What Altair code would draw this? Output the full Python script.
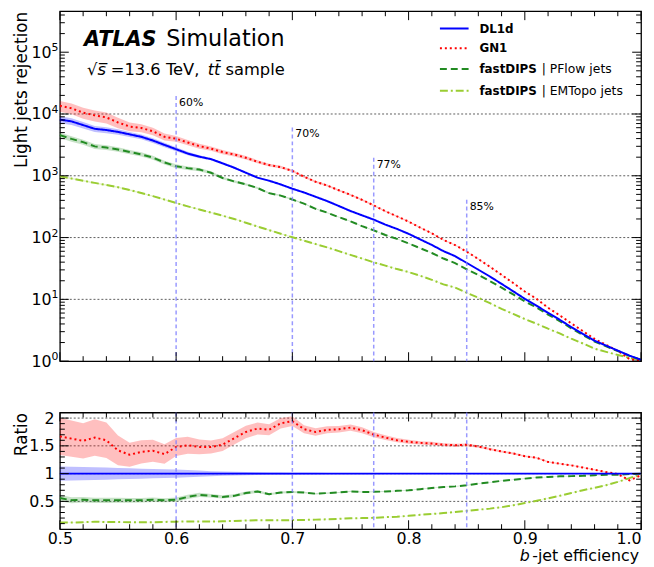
import altair as alt
import pandas as pd

FONT = "DejaVu Sans"
W, H1, H2 = 588, 354, 118

# ---------------- data ----------------
eff = [round(0.50 + 0.01 * i, 2) for i in range(51)]

dl1d = [8130, 7590, 6610, 5750, 5500, 5130, 4680, 4270, 3720, 3160,
        2690, 2290, 2040, 1860, 1590, 1350, 1120, 933, 832, 724,
        617, 537, 457, 389, 324, 269, 229, 195, 162, 138,
        115, 93.3, 75.9, 60.3, 50.1, 38.9, 30.2, 23.4, 17.8, 13.5,
        10.2, 7.94, 6.03, 4.68, 3.55, 2.75, 2.14, 1.78, 1.48, 1.23, 1.05]
gn1 = [13580, 12370, 10510, 9490, 8800, 7280, 6270, 5940, 5250, 4270,
       3980, 3460, 3020, 2750, 2420, 2210, 1960, 1690, 1490, 1380,
       1200, 967, 800, 696, 583, 492, 408, 332, 267, 221,
       181, 145, 117, 91.7, 75.7, 59.1, 45.0, 33.7, 24.9, 18.4,
       13.4, 10.2, 7.30, 5.52, 4.08, 3.05, 2.29, 1.83, 1.47, 1.08, 1.02]
fd_pflow = [4550, 3950, 3500, 2990, 2860, 2670, 2430, 2220, 1970, 1640,
            1430, 1330, 1260, 1120, 922, 810, 728, 634, 524, 478,
            413, 354, 292, 253, 214, 183, 153, 131, 110, 95.2,
            80.5, 67.2, 56.2, 45.8, 38.6, 30.7, 24.8, 19.7, 15.5, 12.0,
            9.28, 7.38, 5.67, 4.45, 3.39, 2.64, 2.08, 1.74, 1.45, 1.22, 1.05]
fd_emtopo = [977, 902, 832, 767, 708, 653, 589, 525, 468, 412,
             363, 320, 285, 254, 226, 200, 174, 151, 132, 115,
             101, 89.1, 78.5, 69.2, 60.3, 52.5, 45.7, 39.8, 35.1, 30.9,
             27.6, 24.1, 20.7, 17.5, 15.5, 12.8, 10.6, 8.66, 7.03, 5.81,
             4.79, 4.05, 3.35, 2.81, 2.31, 1.93, 1.59, 1.41, 1.26, 1.13, 1.04]

# relative statistical uncertainty (half width of the bands)
dl1d_unc = [0.13, 0.125, 0.12, 0.115, 0.11, 0.10, 0.095, 0.09, 0.085, 0.08,
            0.075, 0.065, 0.055, 0.045, 0.04, 0.035, 0.03, 0.025, 0.022, 0.02,
            0.018, 0.016, 0.014, 0.012, 0.011, 0.01, 0.009, 0.009, 0.008, 0.008,
            0.007, 0.007, 0.006, 0.006, 0.006, 0.005, 0.005, 0.005, 0.005, 0.005,
            0.005, 0.005, 0.005, 0.005, 0.005, 0.005, 0.005, 0.005, 0.005, 0.005, 0.005]
gn1_unc = [0.20, 0.20, 0.20, 0.20, 0.20, 0.19, 0.16, 0.15, 0.14, 0.13,
           0.11, 0.10, 0.09, 0.08, 0.075, 0.07, 0.065, 0.06, 0.055, 0.05,
           0.045, 0.04, 0.038, 0.035, 0.033, 0.03, 0.03, 0.028, 0.026, 0.024,
           0.022, 0.02, 0.02, 0.018, 0.017, 0.016, 0.015, 0.014, 0.013, 0.012,
           0.011, 0.01, 0.009, 0.008, 0.008, 0.007, 0.007, 0.006, 0.006, 0.005, 0.005]
pflow_unc = [0.10, 0.10, 0.095, 0.09, 0.09, 0.085, 0.08, 0.08, 0.075, 0.07,
             0.07, 0.065, 0.06, 0.055, 0.05, 0.045, 0.04, 0.035, 0.03, 0.028,
             0.025, 0.022, 0.02, 0.018, 0.016, 0.015, 0.014, 0.013, 0.012, 0.011,
             0.01, 0.009, 0.009, 0.008, 0.008, 0.007, 0.006, 0.006, 0.006, 0.006,
             0.006, 0.005, 0.005, 0.005, 0.005, 0.005, 0.005, 0.005, 0.005, 0.005, 0.005]
emtopo_unc = [0.03, 0.03, 0.03, 0.028, 0.027, 0.026, 0.025, 0.024, 0.023, 0.022,
              0.021, 0.02, 0.02, 0.02, 0.02, 0.02, 0.02, 0.02, 0.02, 0.02,
              0.018, 0.015, 0.015, 0.015, 0.015, 0.015, 0.015, 0.015, 0.015, 0.015,
              0.012, 0.01, 0.01, 0.01, 0.01, 0.01, 0.01, 0.01, 0.01, 0.01,
              0.008, 0.008, 0.008, 0.008, 0.008, 0.008, 0.008, 0.008, 0.008, 0.008, 0.008]

taggers = ["DL1d", "GN1", "fastDIPS_PFlow", "fastDIPS_EMTopo"]
series = [dl1d, gn1, fd_pflow, fd_emtopo]
uncs = [dl1d_unc, gn1_unc, pflow_unc, emtopo_unc]

wp_eff = [0.60, 0.70, 0.77, 0.85]
wp_top = [19500, 6030, 1950, 410]
wp_label = ["60%", "70%", "77%", "85%"]

grid_top = [10, 100, 1000, 10000]
grid_ratio = [0.5, 1, 1.5, 2]
exp_vals = [1, 10, 100, 1000, 10000, 100000]
exp_text = ["0", "1", "2", "3", "4", "5"]
x_major = [0.5, 0.6, 0.7, 0.8, 0.9, 1.0]

# ---------------- styles ----------------
style = {
    "DL1d": dict(color="#0000ff", dash=[1, 0]),
    "GN1": dict(color="#ff0000", dash=[2, 3]),
    "fastDIPS_PFlow": dict(color="#228b22", dash=[7, 4]),
    "fastDIPS_EMTopo": dict(color="#9acd32", dash=[8, 3, 2, 3]),
}

rows = []
for name, vals, unc in zip(taggers, series, uncs):
    for e, v, u, b in zip(eff, vals, unc, dl1d):
        r = v / b
        rows.append(dict(eff=e, tagger=name, rej=v, lo=v * (1 - u), hi=v * (1 + u),
                         ratio=r, rlo=r * (1 - u), rhi=r * (1 + u)))
df = pd.DataFrame(rows)

xs = alt.Scale(domain=[0.5, 1.0], nice=False, zero=False)
ys_top = alt.Scale(type="log", domain=[1, 4.6e5], nice=False)
ys_rat = alt.Scale(domain=[0, 2.1], nice=False, zero=False)

common = dict(ticks=False, tickSize=0, domain=False, grid=False, labelFont=FONT,
              labelFontSize=16, labelColor="black", titleFont=FONT, titleFontSize=17,
              titleFontWeight="normal", titleColor="black")
axis_top_y = alt.Axis(values=exp_vals, labelExpr="'10'", labelPadding=9,
                      title="Light jets rejection", titleAngle=270, titleAlign="right",
                      titleBaseline="alphabetic", titleX=-33.5, titleY=0, **common)
axis_rat_y = alt.Axis(values=grid_ratio, format="~g", labelPadding=6, title="Ratio",
                      titleAngle=270, titleAlign="right", titleBaseline="alphabetic",
                      titleX=-33.5, titleY=0, **common)
axis_rat_x = alt.Axis(values=x_major, format=".1f", labelPadding=2, title=None,
                      labelAlign={"condition": {"test": "datum.value > 0.99", "value": "right"},
                                  "value": "center"}, **common)


def XT(field):
    return alt.X(field, type="quantitative", scale=xs, axis=None)


def YT(field):
    return alt.Y(field, type="quantitative", scale=ys_top, axis=axis_top_y)


def XB(field):
    return alt.X(field, type="quantitative", scale=xs, axis=axis_rat_x)


def YB(field):
    return alt.Y(field, type="quantitative", scale=ys_rat, axis=axis_rat_y)


def sel(name):
    return alt.Chart(df).transform_filter(alt.datum.tagger == name)


def blank():
    return alt.Chart(alt.Data(values=[{}]))


def txt(text, x, y, size, weight="normal", style_="normal", align="left",
        baseline="alphabetic", font=FONT):
    return blank().mark_text(text=text, font=font, fontSize=size, fontWeight=weight,
                             fontStyle=style_, align=align, baseline=baseline,
                             color="black").encode(x=alt.value(x), y=alt.value(y))


def yticks(values, Y, length, side):
    d = pd.DataFrame({"v": values})
    x0, x1 = (0, length) if side == "left" else (W - length, W)
    return alt.Chart(d).mark_rule(color="black", strokeWidth=1).encode(
        y=Y("v"), x=alt.value(x0), x2=alt.value(x1))


def xticks(values, X, length, H, side):
    d = pd.DataFrame({"v": values})
    y0, y1 = (H - length, H) if side == "bottom" else (0, length)
    return alt.Chart(d).mark_rule(color="black", strokeWidth=1).encode(
        x=X("v"), y=alt.value(y0), y2=alt.value(y1))


top_minor = [m * 10 ** k for k in range(6) for m in range(2, 10) if m * 10 ** k < 4.6e5]
x_minor = [round(0.5 + 0.02 * i, 2) for i in range(26) if i % 5 != 0]
r_minor = [round(0.1 * i, 1) for i in range(1, 22) if i % 5 != 0]

# ---------------- top panel ----------------
top_layers = []
top_layers.append(alt.Chart(pd.DataFrame({"v": grid_top})).mark_rule(
    color="black", strokeDash=[2, 2], strokeWidth=0.8, opacity=0.8).encode(y=YT("v")))
for name in taggers:
    s = style[name]
    top_layers.append(sel(name).mark_area(color=s["color"], opacity=0.25).encode(
        x=XT("eff"), y=YT("lo"), y2="hi:Q"))
for name in reversed(taggers):
    s = style[name]
    top_layers.append(sel(name).mark_line(color=s["color"], strokeDash=s["dash"],
                                          strokeWidth=2).encode(x=XT("eff"), y=YT("rej")))
wp_df = pd.DataFrame({"eff": wp_eff, "top": wp_top, "label": wp_label})
top_layers.append(alt.Chart(wp_df).mark_rule(color="#8080ff", strokeDash=[4, 3],
                                             strokeWidth=1.5, opacity=0.8).encode(
    x=XT("eff"), y=YT("top"), y2=alt.value(H1)))
top_layers.append(alt.Chart(wp_df).mark_text(align="left", baseline="top", dx=3, dy=1,
                                             font=FONT, fontSize=11, color="black").encode(
    x=XT("eff"), y=YT("top"), text="label:N"))
top_layers += [yticks(exp_vals, YT, 9, "left"), yticks(top_minor, YT, 5, "left"),
               yticks(exp_vals, YT, 9, "right"), yticks(top_minor, YT, 5, "right"),
               xticks(x_major, XT, 9, H1, "bottom"), xticks(x_minor, XT, 5, H1, "bottom"),
               xticks(x_major, XT, 9, H1, "top"), xticks(x_minor, XT, 5, H1, "top")]
top_layers.append(alt.Chart(pd.DataFrame({"v": exp_vals, "e": exp_text})).mark_text(
    align="left", baseline="alphabetic", dy=-1, font=FONT, fontSize=11, color="black").encode(
    y=YT("v"), x=alt.value(-8.5), text="e:N"))

top_layers += [
    txt("ATLAS", 24.5, 35.5, 21, weight="bold", style_="italic"),
    txt("Simulation", 107.5, 35.5, 22.5),
    txt("\u221a", 27.5, 64.5, 16.5),
    txt("s\u0305", 38, 64.5, 16.5, style_="italic"),
    txt("=13.6 TeV,", 51.5, 64.5, 16.5),
    txt("tt\u0304", 149.5, 64.5, 16.5, style_="italic"),
    txt("sample", 167.5, 64.5, 16.5),
]
# legend
leg_y = [17.5, 37.5, 58.5, 80.5]
leg_bold = ["DL1d", "GN1", "fastDIPS", "fastDIPS"]
leg_reg = ["", "", "| PFlow jets", "| EMTopo jets"]
for name, yy, b, r in zip(taggers, leg_y, leg_bold, leg_reg):
    s = style[name]
    top_layers.append(blank().mark_rule(color=s["color"], strokeDash=s["dash"],
                                        strokeWidth=2).encode(
        x=alt.value(384.5), x2=alt.value(413.5), y=alt.value(yy)))
    top_layers.append(txt(b, 424.5, yy, 12, weight="bold", baseline="middle"))
    if r:
        top_layers.append(txt(r, 487.5, yy, 12.5, baseline="middle"))

top = alt.layer(*top_layers).properties(width=W, height=H1)

# ---------------- ratio panel ----------------
bot_layers = []
bot_layers.append(alt.Chart(pd.DataFrame({"v": grid_ratio})).mark_rule(
    color="black", strokeDash=[2, 2], strokeWidth=0.8, opacity=0.8).encode(y=YB("v")))
for name in taggers:
    s = style[name]
    bot_layers.append(sel(name).mark_area(color=s["color"], opacity=0.25).encode(
        x=XB("eff"), y=YB("rlo"), y2="rhi:Q"))
for name in reversed(taggers):
    s = style[name]
    bot_layers.append(sel(name).mark_line(color=s["color"], strokeDash=s["dash"],
                                          strokeWidth=2).encode(x=XB("eff"), y=YB("ratio")))
bot_layers.append(alt.Chart(wp_df).mark_rule(color="#8080ff", strokeDash=[4, 3],
                                             strokeWidth=1.5, opacity=0.8).encode(x=XB("eff")))
bot_layers += [yticks(grid_ratio, YB, 9, "left"), yticks(r_minor, YB, 5, "left"),
               yticks(grid_ratio, YB, 9, "right"), yticks(r_minor, YB, 5, "right"),
               xticks(x_major, XB, 9, H2, "bottom"), xticks(x_minor, XB, 5, H2, "bottom"),
               xticks(x_major, XB, 9, H2, "top"), xticks(x_minor, XB, 5, H2, "top")]
bot_layers += [
    txt("-jet efficiency", W - 2, H2 + 32, 16, align="right"),
    txt("b", W - 2 - 110.5, H2 + 32, 16, style_="italic", align="right"),
]
bottom = alt.layer(*bot_layers).properties(width=W, height=H2)

chart = alt.vconcat(top, bottom, spacing=39).properties(
    padding={"left": 3.5, "top": -2, "right": 0, "bottom": 0}, background="white"
).configure_view(stroke="black", strokeWidth=1.3)

chart.save("out.html", embed_options={"renderer": "svg", "actions": False})
